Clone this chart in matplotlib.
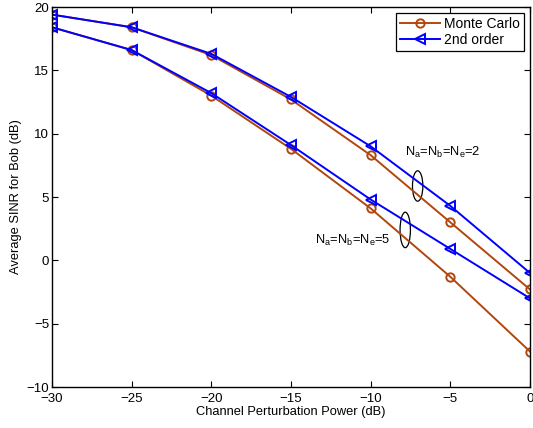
import matplotlib
matplotlib.use("Agg")
import matplotlib.pyplot as plt
from matplotlib.patches import Ellipse

plt.rcParams['font.family'] = ['Liberation Sans', 'DejaVu Sans']
plt.rcParams['mathtext.fontset'] = 'custom'
plt.rcParams['mathtext.rm'] = 'Liberation Sans'

x = [-30, -25, -20, -15, -10, -5, 0]
mc_n2 = [19.4, 18.4, 16.2, 12.7, 8.3, 3.0, -2.3]
so_n2 = [19.4, 18.4, 16.3, 12.9, 9.0, 4.3, -1.0]
mc_n5 = [18.4, 16.6, 13.0, 8.8, 4.1, -1.3, -7.2]
so_n5 = [18.4, 16.6, 13.2, 9.1, 4.8, 0.9, -3.0]
xticks = [-30, -25, -20, -15, -10, -5, 0]
yticks = [-10, -5, 0, 5, 10, 15, 20]

brown = '#B2470E'
blue = '#0000FF'

fig = plt.figure(figsize=(5.33, 4.28), dpi=100)
ax = fig.add_axes([52/533, 41/428, 478/533, 380/428])

ax.plot(x, mc_n2, color=brown, lw=1.4, marker='o', ms=6, mfc='none', mew=1.4, label='Monte Carlo')
ax.plot(x, so_n2, color=blue, lw=1.4, marker='<', ms=7, mfc='none', mew=1.4, label='2nd order')
ax.plot(x, mc_n5, color=brown, lw=1.4, marker='o', ms=6, mfc='none', mew=1.4)
ax.plot(x, so_n5, color=blue, lw=1.4, marker='<', ms=7, mfc='none', mew=1.4)

ax.set_xlim(-30, 0)
ax.set_ylim(-10, 20)
ax.set_xticks(xticks)
ax.set_yticks(yticks)
ax.set_xticklabels([str(v).replace('-', '\u2212') for v in xticks])
ax.set_yticklabels([str(v).replace('-', '\u2212') for v in yticks])
ax.tick_params(direction='in', top=True, right=True, labelsize=9.5, length=4, width=0.8)
ax.tick_params(axis='x', pad=4)
ax.tick_params(axis='y', pad=2)
for s in ax.spines.values():
    s.set_linewidth(1.0)

ax.set_xlabel('Channel Perturbation Power (dB)', fontsize=9.3, labelpad=1)
ax.set_ylabel('Average SINR for Bob (dB)', fontsize=9.3, labelpad=3)

ax.add_patch(Ellipse((-7.05, 5.87), 0.65, 2.4, fill=False, color='black', lw=0.9))
ax.add_patch(Ellipse((-7.83, 2.4), 0.65, 2.8, fill=False, color='black', lw=0.9))
ax.text(-7.85, 8.5, r'N$_\mathregular{a}$=N$_\mathregular{b}$=N$_\mathregular{e}$=2', fontsize=9.3, va='center', ha='left')
ax.text(-13.5, 1.6, r'N$_\mathregular{a}$=N$_\mathregular{b}$=N$_\mathregular{e}$=5', fontsize=9.3, va='center', ha='left')

leg = ax.legend(loc='upper right', fontsize=10, fancybox=False, edgecolor='black',
                framealpha=1, handlelength=2.9, borderpad=0.3, labelspacing=0.15,
                handletextpad=0.3, borderaxespad=0.4)
leg.get_frame().set_linewidth(0.9)

fig.savefig('out.png', dpi=100)
